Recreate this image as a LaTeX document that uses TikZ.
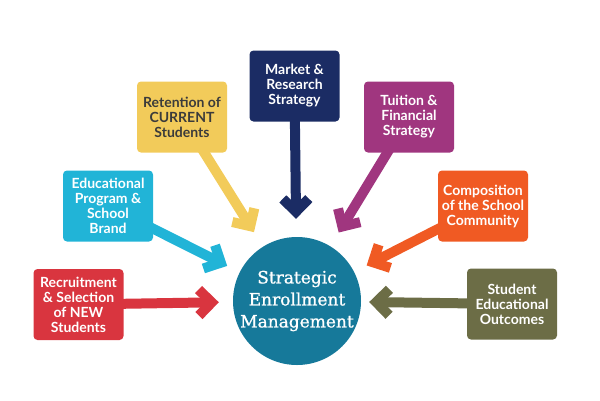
\documentclass[tikz,border=0pt]{standalone}
\usepackage{fontspec}
\setmainfont{Lato}
\newfontfamily\slabfont[FakeBold=1]{DejaVu Serif}
\usetikzlibrary{arrows.meta,backgrounds}
\definecolor{cred}{HTML}{D9353F}
\definecolor{ccyan}{HTML}{21B4D7}
\definecolor{cyellow}{HTML}{F2CB5A}
\definecolor{cnavy}{HTML}{1B2C64}
\definecolor{cpurple}{HTML}{A0367F}
\definecolor{corange}{HTML}{F05A23}
\definecolor{colive}{HTML}{6C6D46}
\definecolor{cteal}{HTML}{16799A}
\definecolor{cdark}{HTML}{3B3B3B}
\begin{document}
\begin{tikzpicture}[x=1pt,y=-1pt,
  box/.style={rounded corners=4pt, minimum width=90pt, minimum height=71pt,
    align=center, font=\fontsize{14}{15}\selectfont\bfseries, text=white, inner sep=1pt},
  conn/.style={line width=10pt,
    -{Straight Barb[length=13pt,width=26pt,line width=10pt,sharp]}, shorten >=14pt}
]
\useasboundingbox (0,0) rectangle (600,400);
\node[circle, fill=cteal, minimum size=128pt, inner sep=0pt] (sem) at (297,301) {};
\node[text=white, align=center, font=\slabfont\fontsize{17}{22}\selectfont] (semtext) at (sem.center) {Strategic\\Enrollment\\Management};

\node[box, fill=cred] (b1) at (78.5,304.5) {Recruitment\\\& Selection\\of NEW\\Students};
\node[box, fill=ccyan] (b2) at (108,206) {Educational\\Program \&\\School\\Brand};
\node[box, fill=cyellow, text=cdark] (b3) at (182,117) {Retention of\\CURRENT\\Students};
\node[box, fill=cnavy] (b4) at (294.5,86) {Market \&\\Research\\Strategy};
\node[box, fill=cpurple] (b5) at (409,117) {Tuition \&\\Financial\\Strategy};
\node[box, fill=corange] (b6) at (483,206) {Composition\\of the School\\Community};
\node[box, fill=colive] (b7) at (512,304) {Student\\Educational\\Outcomes};

\begin{scope}[on background layer]
\draw[conn, cred] (b1.center) -- (sem);
\draw[conn, ccyan] (b2.center) -- (sem);
\draw[conn, cyellow, shorten >=17pt] (b3.center) -- (sem);
\draw[conn, cnavy, shorten >=18pt] (b4.center) -- (sem);
\draw[conn, cpurple, shorten >=16pt] (b5.center) -- (sem);
\draw[conn, corange] (b6.center) -- (sem);
\draw[conn, colive, shorten >=8pt] (b7.center) -- (sem);
\end{scope}
\end{tikzpicture}
\end{document}
